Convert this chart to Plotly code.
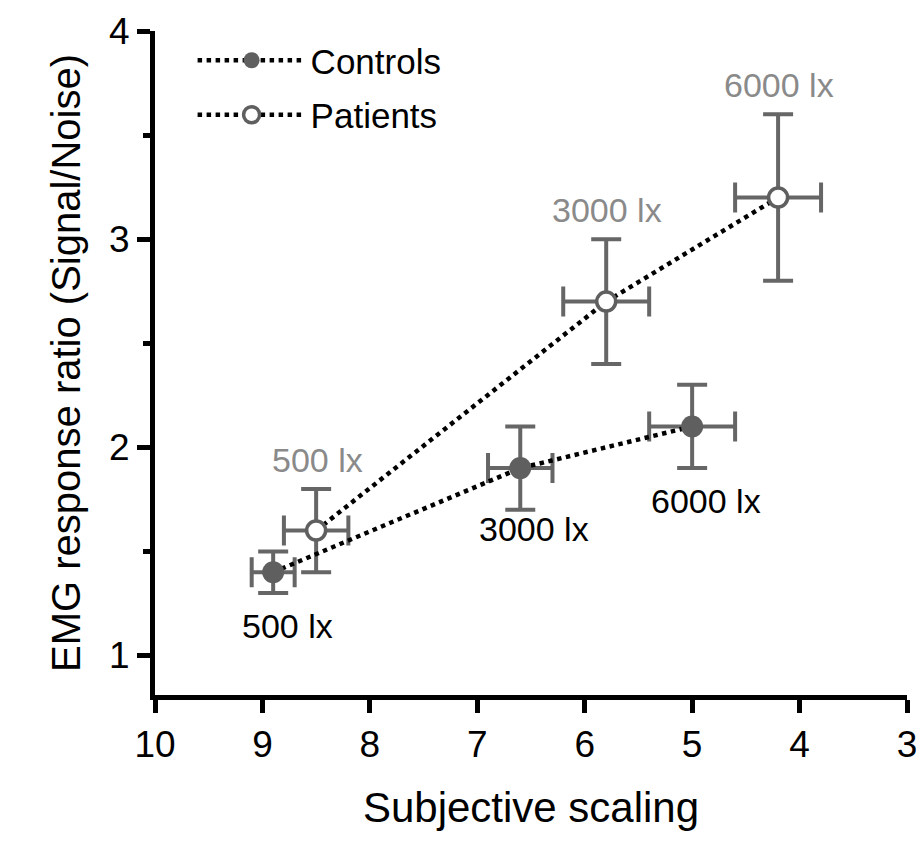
import plotly.graph_objects as go

# Data
groups = ["Controls", "Patients"]
lux_labels = ["500 lx", "3000 lx", "6000 lx"]

controls_x = [8.9, 6.6, 5.0]
controls_y = [1.4, 1.9, 2.1]
controls_xerr = [0.2, 0.3, 0.4]
controls_yerr = [0.1, 0.2, 0.2]

patients_x = [8.5, 5.8, 4.2]
patients_y = [1.6, 2.7, 3.2]
patients_xerr = [0.3, 0.4, 0.4]
patients_yerr = [0.2, 0.3, 0.4]

x_ticks = [10, 9, 8, 7, 6, 5, 4, 3]
y_ticks = [1, 2, 3, 4]
y_minor_ticks = [1.5, 2.5, 3.5]

FONT = "Liberation Sans, Arial, Helvetica, sans-serif"
ERR_COLOR = "#666666"
MARK_COLOR = "#5f5f5f"

# label offsets (pixels) for the control labels below the points
control_label_shift = [-12, 2, -12]

fig = go.Figure()

# error bars (drawn first, beneath lines & markers)
for xs, ys, xe, ye in [(controls_x, controls_y, controls_xerr, controls_yerr),
                       (patients_x, patients_y, patients_xerr, patients_yerr)]:
    fig.add_trace(go.Scatter(
        x=xs, y=ys, mode="markers",
        marker=dict(size=1, color="rgba(0,0,0,0)"),
        error_x=dict(type="data", array=xe, color=ERR_COLOR, thickness=4, width=15),
        error_y=dict(type="data", array=ye, color=ERR_COLOR, thickness=4, width=15),
        showlegend=False, hoverinfo="skip"))

fig.add_trace(go.Scatter(
    x=controls_x, y=controls_y, mode="lines+markers", name=groups[0],
    legendgroup="c",
    line=dict(color="black", width=4.5, dash="dot"),
    marker=dict(size=22, color=MARK_COLOR, line=dict(width=0))))
fig.add_trace(go.Scatter(
    x=patients_x, y=patients_y, mode="lines+markers", name=groups[1],
    legendgroup="p",
    line=dict(color="black", width=4.5, dash="dot"),
    marker=dict(size=19, color="white", line=dict(width=3.5, color=MARK_COLOR))))

annotations = []
for i, lab in enumerate(lux_labels):
    annotations.append(dict(
        x=controls_x[i], y=controls_y[i] - controls_yerr[i], text=lab,
        showarrow=False, yanchor="top", yshift=control_label_shift[i], xshift=14,
        font=dict(family=FONT, size=34, color="black")))
    annotations.append(dict(
        x=patients_x[i], y=patients_y[i] + patients_yerr[i], text=lab,
        showarrow=False, yanchor="bottom", yshift=8, xshift=1,
        font=dict(family=FONT, size=34, color="#8a8a8a")))

fig.update_layout(
    width=912, height=830,
    margin=dict(l=147, r=13, t=23, b=143),
    plot_bgcolor="white", paper_bgcolor="white",
    font=dict(family=FONT, size=37, color="black"),
    annotations=annotations,
    legend=dict(x=0.05, y=1.0, xanchor="left", yanchor="top",
                font=dict(family=FONT, size=35, color="black"),
                bgcolor="rgba(0,0,0,0)", itemwidth=108, tracegroupgap=6),
    xaxis=dict(
        range=[10, 3], tickvals=x_ticks, ticktext=[str(v) for v in x_ticks],
        showline=True, linecolor="black", linewidth=5,
        ticks="outside", ticklen=13, tickwidth=5, tickcolor="black",
        ticklabeloverflow="allow",
        showgrid=False, zeroline=False, automargin=False,
        tickfont=dict(family=FONT, size=37),
        title=dict(text="Subjective scaling", font=dict(family=FONT, size=42), standoff=30)),
    yaxis=dict(
        range=[0.81, 4.0], tickvals=y_ticks, ticktext=[str(v) for v in y_ticks],
        showline=True, linecolor="black", linewidth=5,
        ticks="outside", ticklen=13, tickwidth=5, tickcolor="black",
        ticklabeloverflow="allow",
        minor=dict(tickvals=y_minor_ticks, ticks="outside", ticklen=7, tickwidth=5, tickcolor="black"),
        showgrid=False, zeroline=False, automargin=False,
        tickfont=dict(family=FONT, size=37),
        title=dict(text="EMG response ratio (Signal/Noise)", font=dict(family=FONT, size=40), standoff=18)),
)

fig.write_html("out.html")
